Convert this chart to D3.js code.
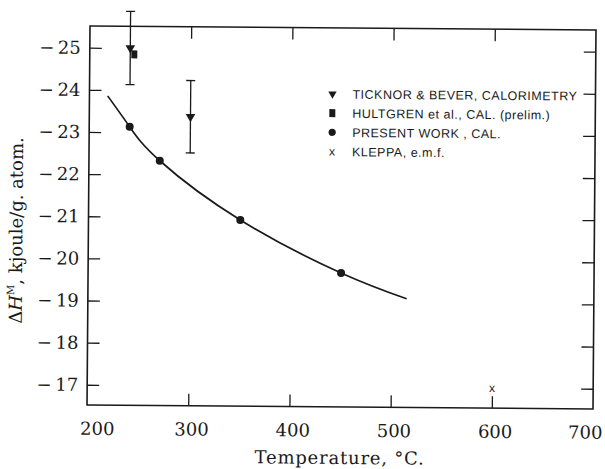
<!DOCTYPE html>
<html>
<head>
<meta charset="utf-8">
<script src="https://cdn.jsdelivr.net/npm/d3@7"></script>
<style>
  body { margin: 0; background: #fff; }
  svg { display: block; }
</style>
</head>
<body>
<svg id="chart" width="605" height="469"></svg>
<script>
// Heat of mixing vs temperature
const presentT = [240, 270, 350, 450];
const presentH = [-23.13, -22.33, -20.94, -19.70];

// smooth curve drawn through the present-work results
const curveT = [218, 240, 270, 350, 450, 515];
const curveH = [-23.86, -23.13, -22.33, -20.94, -19.70, -19.10];

const ticknorT = [240, 300];
const ticknorH = [-25.0, -23.38];
const ticknorErr = [0.87, 0.86];

const hultgrenT = [244];
const hultgrenH = [-24.85];

const kleppaT = [600];
const kleppaH = [-17.0];

const xTicks = [200, 300, 400, 500, 600, 700];
const xTopTicks = [300, 400, 500, 600];
const yTicks = [-25, -24, -23, -22, -21, -20, -19, -18, -17];

const legendLabels = [
  "TICKNOR & BEVER, CALORIMETRY",
  "HULTGREN  et al., CAL. (prelim.)",
  "PRESENT WORK , CAL.",
  "KLEPPA, e.m.f."
];
const legendSymbols = ["triangle", "square", "circle", "cross"];

const W = 506, H = 379;
const ink = "#1a1a1a";
const serif = "'DejaVu Serif', 'Liberation Serif', serif";
const sans = "'Liberation Sans', Arial, sans-serif";

const svg = d3.select("#chart");
const g = svg.append("g").attr("transform", "translate(90,26) rotate(0.45)");

const x = d3.scaleLinear().domain([200, 700]).range([0, W]);
const y = d3.scaleLinear().domain([-25.515, -16.52]).range([0, H]);

const fmt = d => "\u2212\u2009" + Math.abs(d);

// bottom axis with inward ticks
const xAxis = g.append("g").attr("transform", `translate(0,${H})`)
  .call(d3.axisBottom(x).tickValues(xTicks).tickSizeInner(-12).tickSizeOuter(0).tickPadding(17));
xAxis.selectAll("text").attr("font-family", serif).attr("font-size", 18).attr("fill", ink)
  .attr("dx", d => d === 200 ? 10 : d === 700 ? -8 : 3);
xAxis.selectAll(".tick").filter(d => d === 200 || d === 700).select("line").remove();

// left axis
const yAxis = g.append("g")
  .call(d3.axisLeft(y).tickValues(yTicks).tickSizeInner(-12).tickSizeOuter(0).tickPadding(9).tickFormat(fmt));
yAxis.selectAll("text").attr("font-family", serif).attr("font-size", 18).attr("fill", ink);

// top and right axes, ticks only
g.append("g")
  .call(d3.axisTop(x).tickValues(xTopTicks).tickSizeInner(-12).tickSizeOuter(0).tickFormat(""));
g.append("g").attr("transform", `translate(${W},0)`)
  .call(d3.axisRight(y).tickValues(yTicks).tickSizeInner(-12).tickSizeOuter(0).tickFormat(""));

g.selectAll(".domain").remove();
g.selectAll(".tick line").attr("stroke", ink).attr("stroke-width", 1.3);

// frame
g.append("rect").attr("x", 0).attr("y", 0).attr("width", W).attr("height", H)
  .attr("fill", "none").attr("stroke", ink).attr("stroke-width", 1.6);

// curve
const line = d3.line().x((d, i) => x(curveT[i])).y((d, i) => y(curveH[i])).curve(d3.curveNatural);
g.append("path").datum(curveT).attr("d", line)
  .attr("fill", "none").attr("stroke", ink).attr("stroke-width", 1.7);

// present work points
g.selectAll(".pw").data(presentT).join("circle")
  .attr("cx", d => x(d)).attr("cy", (d, i) => y(presentH[i])).attr("r", 4).attr("fill", ink);

// Ticknor & Bever with error bars
const tb = g.selectAll(".tb").data(ticknorT).join("g");
tb.append("line")
  .attr("x1", d => x(d)).attr("x2", d => x(d))
  .attr("y1", (d, i) => y(ticknorH[i] - ticknorErr[i]))
  .attr("y2", (d, i) => y(ticknorH[i] + ticknorErr[i]))
  .attr("stroke", ink).attr("stroke-width", 1.3);
[-1, 1].forEach(s => {
  tb.append("line")
    .attr("x1", d => x(d) - 4.5).attr("x2", d => x(d) + 4.5)
    .attr("y1", (d, i) => y(ticknorH[i] + s * ticknorErr[i]))
    .attr("y2", (d, i) => y(ticknorH[i] + s * ticknorErr[i]))
    .attr("stroke", ink).attr("stroke-width", 1.3);
});
const tri = d3.symbol().type(d3.symbolTriangle).size(40);
tb.append("path").attr("d", tri)
  .attr("transform", (d, i) => `translate(${x(d)},${y(ticknorH[i])}) rotate(180)`)
  .attr("fill", ink);

// Hultgren
g.selectAll(".hu").data(hultgrenT).join("rect")
  .attr("x", d => x(d) - 3).attr("y", (d, i) => y(hultgrenH[i]) - 4)
  .attr("width", 6).attr("height", 8).attr("fill", ink);

// Kleppa
g.selectAll(".kl").data(kleppaT).join("text")
  .attr("x", d => x(d)).attr("y", (d, i) => y(kleppaH[i]) + 4)
  .attr("text-anchor", "middle").attr("font-family", sans).attr("font-size", 12)
  .attr("fill", ink).text("x");

// legend
const lg = g.append("g").attr("transform", "translate(243,66)");
const rows = lg.selectAll("g").data(legendLabels).join("g")
  .attr("transform", (d, i) => `translate(0,${i * 19.2})`);
rows.each(function (d, i) {
  const r = d3.select(this);
  const s = legendSymbols[i];
  if (s === "triangle") {
    r.append("path").attr("d", d3.symbol().type(d3.symbolTriangle).size(30)())
      .attr("transform", "rotate(180)").attr("fill", ink);
  } else if (s === "square") {
    r.append("rect").attr("x", -3).attr("y", -4).attr("width", 6).attr("height", 8).attr("fill", ink);
  } else if (s === "circle") {
    r.append("circle").attr("r", 3.6).attr("fill", ink);
  } else {
    r.append("text").attr("y", 4).attr("text-anchor", "middle").attr("font-family", sans)
      .attr("font-size", 12).attr("fill", ink).text("x");
  }
  r.append("text").attr("x", 20).attr("y", 4.6).attr("font-family", sans)
    .attr("font-size", 12.5).attr("letter-spacing", 0.5).attr("fill", ink).text(d);
});

// axis titles
g.append("text").attr("x", 253).attr("y", 436).attr("text-anchor", "middle")
  .attr("font-family", serif).attr("font-size", 18).attr("letter-spacing", 0.8).attr("fill", ink)
  .text("Temperature, \u00B0C.");

const yt = g.append("text").attr("transform", "translate(-66,205) rotate(-90)")
  .attr("text-anchor", "middle").attr("font-family", serif).attr("font-size", 18).attr("fill", ink);
yt.append("tspan").text("\u0394");
yt.append("tspan").attr("font-style", "italic").text("H");
yt.append("tspan").attr("font-size", 10).attr("dy", -8).text("M");
yt.append("tspan").attr("dy", 8).text(", kjoule/g. atom.");
</script>
</body>
</html>
